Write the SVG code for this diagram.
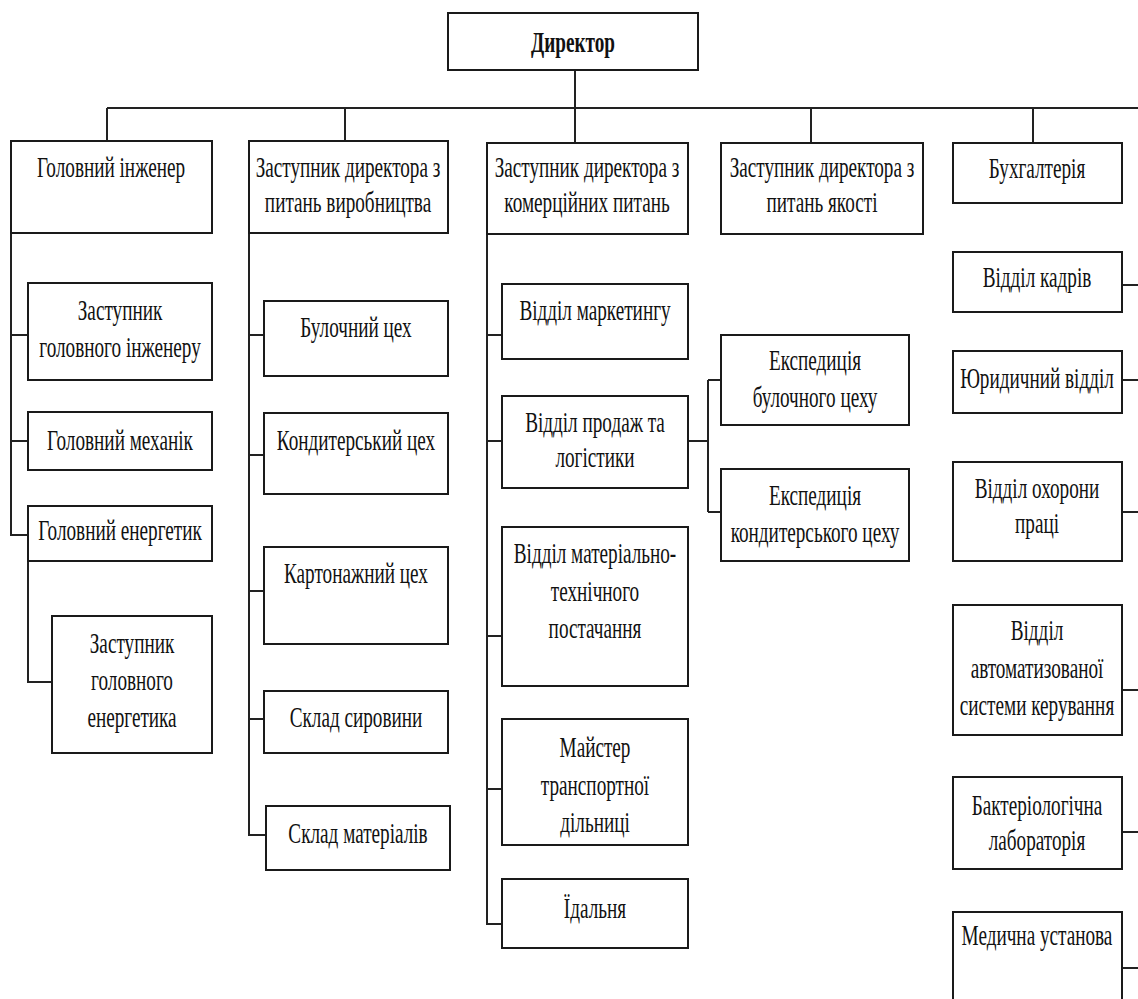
<svg xmlns="http://www.w3.org/2000/svg" width="1138" height="999" viewBox="0 0 1138 999" font-family="'Liberation Serif', 'DejaVu Serif', serif">
<style>
.b{fill:#fff;stroke:#1a1a1a;stroke-width:2}
.c{fill:none;stroke:#222;stroke-width:2}
.t text{font-family:'Liberation Serif','DejaVu Serif',serif;font-size:30px;fill:#111;text-anchor:middle}
.bold{font-weight:bold}
</style>
<rect width="1138" height="999" fill="#fff"/>
<g id="connectors" class="c">
<path d="M575 70V143"/>
<path d="M107 108H1140"/>
<path d="M107 108V141M345 108V141M811 108V143M1033 108V143"/>
<path d="M11 233V535H28M11 335H28M11 441H28"/>
<path d="M28 561V682H52"/>
<path d="M249 233V835H266M249 335H264M249 455H264M249 591H264M249 719H264"/>
<path d="M487 234V924H502M487 335H502M487 441H502M487 636H502M487 789H502"/>
<path d="M688 441H708M708 380V512M708 380H721M708 512H721"/>
<path d="M1122 285H1140M1122 380H1140M1122 512H1140M1122 690H1140M1122 832H1140M1122 968H1140"/>
</g>
<g class="t">
<g id="director"><rect class="b" x="448" y="13" width="250" height="57"/><text class="bold" transform="translate(573,52) scale(0.64,1)">Директор</text></g>
<g id="n-golovnyi-inzhener"><rect class="b" x="11" y="141" width="201" height="92"/><text transform="translate(111,177) scale(0.64,1)">Головний інженер</text></g>
<g id="n-zast-vyrob"><rect class="b" x="249" y="141" width="199" height="92"/><text transform="translate(348,177) scale(0.64,1)">Заступник директора з</text><text transform="translate(348,212) scale(0.64,1)">питань виробництва</text></g>
<g id="n-zast-komerts"><rect class="b" x="487" y="143" width="201" height="91"/><text transform="translate(587,177) scale(0.64,1)">Заступник директора з</text><text transform="translate(587,212) scale(0.64,1)">комерційних питань</text></g>
<g id="n-zast-yakosti"><rect class="b" x="721" y="143" width="202" height="91"/><text transform="translate(822,177) scale(0.64,1)">Заступник директора з</text><text transform="translate(822,212) scale(0.64,1)">питань якості</text></g>
<g id="n-bukhgalteriia"><rect class="b" x="953" y="143" width="169" height="60"/><text transform="translate(1037,178) scale(0.64,1)">Бухгалтерія</text></g>
<g id="n-zast-gol-inzh"><rect class="b" x="28" y="283" width="184" height="97"/><text transform="translate(120,320) scale(0.64,1)">Заступник</text><text transform="translate(120,357) scale(0.64,1)">головного інженеру</text></g>
<g id="n-gol-mekhanik"><rect class="b" x="28" y="412" width="184" height="58"/><text transform="translate(120,450) scale(0.64,1)">Головний механік</text></g>
<g id="n-gol-energetyk"><rect class="b" x="28" y="506" width="184" height="55"/><text transform="translate(120,540) scale(0.64,1)">Головний енергетик</text></g>
<g id="n-zast-gol-energ"><rect class="b" x="52" y="616" width="160" height="137"/><text transform="translate(132,653) scale(0.64,1)">Заступник</text><text transform="translate(132,690) scale(0.64,1)">головного</text><text transform="translate(132,727) scale(0.64,1)">енергетика</text></g>
<g id="n-bulochnyi"><rect class="b" x="264" y="301" width="184" height="75"/><text transform="translate(356,337) scale(0.64,1)">Булочний цех</text></g>
<g id="n-kondyterskyi"><rect class="b" x="264" y="413" width="184" height="81"/><text transform="translate(356,450) scale(0.64,1)">Кондитерський цех</text></g>
<g id="n-kartonazhnyi"><rect class="b" x="264" y="547" width="184" height="97"/><text transform="translate(356,583) scale(0.64,1)">Картонажний цех</text></g>
<g id="n-sklad-syrovyny"><rect class="b" x="264" y="691" width="184" height="62"/><text transform="translate(356,727) scale(0.64,1)">Склад сировини</text></g>
<g id="n-sklad-materialiv"><rect class="b" x="266" y="806" width="184" height="64"/><text transform="translate(358,843) scale(0.64,1)">Склад матеріалів</text></g>
<g id="n-marketynh"><rect class="b" x="502" y="284" width="186" height="75"/><text transform="translate(595,320) scale(0.64,1)">Відділ маркетингу</text></g>
<g id="n-prodazh"><rect class="b" x="502" y="396" width="186" height="92"/><text transform="translate(595,432) scale(0.64,1)">Відділ продаж та</text><text transform="translate(595,467) scale(0.64,1)">логістики</text></g>
<g id="n-mtp"><rect class="b" x="502" y="527" width="186" height="159"/><text transform="translate(595,563) scale(0.64,1)">Відділ матеріально-</text><text transform="translate(595,601) scale(0.64,1)">технічного</text><text transform="translate(595,638) scale(0.64,1)">постачання</text></g>
<g id="n-maister"><rect class="b" x="502" y="719" width="186" height="126"/><text transform="translate(595,757) scale(0.64,1)">Майстер</text><text transform="translate(595,795) scale(0.64,1)">транспортної</text><text transform="translate(595,832) scale(0.64,1)">дільниці</text></g>
<g id="n-idalnia"><rect class="b" x="502" y="879" width="186" height="69"/><text transform="translate(595,918) scale(0.64,1)">Їдальня</text></g>
<g id="n-eksp-bul"><rect class="b" x="721" y="335" width="188" height="90"/><text transform="translate(815,370) scale(0.64,1)">Експедиція</text><text transform="translate(815,407) scale(0.64,1)">булочного цеху</text></g>
<g id="n-eksp-kond"><rect class="b" x="721" y="469" width="188" height="92"/><text transform="translate(815,505) scale(0.64,1)">Експедиція</text><text transform="translate(815,542) scale(0.64,1)">кондитерського цеху</text></g>
<g id="n-kadry"><rect class="b" x="953" y="252" width="169" height="60"/><text transform="translate(1037,287) scale(0.64,1)">Відділ кадрів</text></g>
<g id="n-yurydychnyi"><rect class="b" x="953" y="351" width="169" height="62"/><text transform="translate(1037,388) scale(0.64,1)">Юридичний відділ</text></g>
<g id="n-okhorona"><rect class="b" x="953" y="462" width="169" height="99"/><text transform="translate(1037,498) scale(0.64,1)">Відділ охорони</text><text transform="translate(1037,533) scale(0.64,1)">праці</text></g>
<g id="n-asu"><rect class="b" x="953" y="605" width="169" height="130"/><text transform="translate(1037,640) scale(0.64,1)">Відділ</text><text transform="translate(1037,678) scale(0.64,1)">автоматизованої</text><text transform="translate(1037,715) scale(0.64,1)">системи керування</text></g>
<g id="n-bakt"><rect class="b" x="953" y="777" width="169" height="92"/><text transform="translate(1037,815) scale(0.64,1)">Бактеріологічна</text><text transform="translate(1037,850) scale(0.64,1)">лабораторія</text></g>
<g id="n-medychna"><rect class="b" x="953" y="912" width="169" height="100"/><text transform="translate(1037,945) scale(0.64,1)">Медична установа</text></g>
</g>
</svg>
